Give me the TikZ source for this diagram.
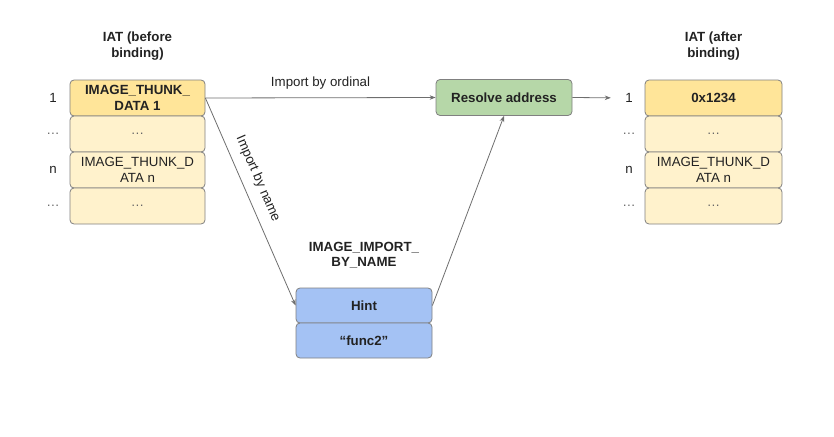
\documentclass[tikz,border=0pt]{standalone}
\usepackage{fontspec}
\setmainfont{Liberation Sans}
\usetikzlibrary{arrows.meta}
\definecolor{yelD}{HTML}{FFE599}
\definecolor{yelL}{HTML}{FFF2CC}
\definecolor{grn}{HTML}{B6D7A8}
\definecolor{blu}{HTML}{A4C2F4}
\definecolor{bordc}{HTML}{808080}
\definecolor{txt}{HTML}{222222}
\definecolor{dots}{HTML}{666666}
\definecolor{linec}{HTML}{6E6E6E}
\begin{document}
\begin{tikzpicture}[x=1pt,y=-1pt,
  fnt/.style={font=\fontsize{13.3}{15.5}\selectfont, text=txt},
  cell/.style={fnt, draw=bordc, line width=0.8pt, rounded corners=4pt, inner sep=0pt, align=center, minimum height=36pt},
  lcell/.style={cell, minimum width=135pt},
  rcell/.style={cell, minimum width=137pt},
  bcell/.style={cell, fill=blu, minimum width=136pt, minimum height=35pt},
  rowlab/.style={fnt, inner sep=0pt, minimum width=36pt, minimum height=14pt},
  title/.style={fnt, align=center, font=\fontsize{13.3}{15.5}\selectfont\bfseries},
  conn/.style={draw=linec, line width=0.8pt, -{Stealth[length=6pt,width=4.5pt]}}
]
\useasboundingbox (0,0) rectangle (834,436);

% titles
\node[title] (tl) at (137.5,46) {IAT (before\\binding)};
\node[title] (tr) at (713.5,46) {IAT (after\\binding)};
\node[title] (tm) at (364,255) {IMAGE\_IMPORT\_\\BY\_NAME};

% left stack
\node[lcell, fill=yelD, font=\fontsize{13.3}{15.5}\selectfont\bfseries] (l1) at (137.5,98) {IMAGE\_THUNK\_\\DATA 1};
\node[lcell, fill=yelL, text=dots] (l2) at (137.5,134) {\dots};
\node[lcell, fill=yelL] (l3) at (137.5,170) {IMAGE\_THUNK\_D\\ATA n};
\node[lcell, fill=yelL, text=dots] (l4) at (137.5,206) {\dots};

\node[rowlab] (ll1) at (53,98) {1};
\node[rowlab, text=dots] (ll2) at (53,134) {\dots};
\node[rowlab] (ll3) at (53,170) {n};
\node[rowlab, text=dots] (ll4) at (53,206) {\dots};

% right stack
\node[rcell, fill=yelD, font=\fontsize{13.3}{15.5}\selectfont\bfseries] (r1) at (713.5,98) {0x1234};
\node[rcell, fill=yelL, text=dots] (r2) at (713.5,134) {\dots};
\node[rcell, fill=yelL] (r3) at (713.5,170) {IMAGE\_THUNK\_D\\ATA n};
\node[rcell, fill=yelL, text=dots] (r4) at (713.5,206) {\dots};

\node[rowlab] (rl1) at (629,98) {1};
\node[rowlab, text=dots] (rl2) at (629,134) {\dots};
\node[rowlab] (rl3) at (629,170) {n};
\node[rowlab, text=dots] (rl4) at (629,206) {\dots};

% resolve
\node[cell, fill=grn, minimum width=136pt, font=\fontsize{13.3}{15.5}\selectfont\bfseries] (res) at (504,97.5) {Resolve address};

% import by name
\node[bcell, font=\fontsize{13.3}{15.5}\selectfont\bfseries] (hint) at (364,305.5) {Hint};
\node[bcell, font=\fontsize{13.3}{15.5}\selectfont\bfseries] (func) at (364,340.5) {“func2”};

% connectors
\draw[conn] (l1.east) -- (res.west) node[fnt, midway, above=5pt] {Import by ordinal};
\draw[conn] (l1.east) -- (hint.west) node[fnt, pos=0.42, sloped, above=6pt] {Import by name};
\draw[conn] (hint.east) -- (res.south);
\draw[conn] (res.east) -- (rl1);
\end{tikzpicture}
\end{document}
